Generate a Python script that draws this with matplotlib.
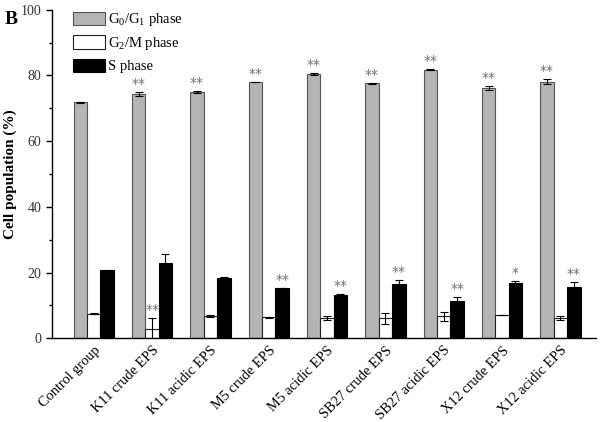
import matplotlib
matplotlib.use("Agg")
import matplotlib.pyplot as plt
import numpy as np

categories = ["Control group", "K11 crude EPS", "K11 acidic EPS", "M5 crude EPS",
              "M5 acidic EPS", "SB27 crude EPS", "SB27 acidic EPS", "X12 crude EPS",
              "X12 acidic EPS"]
g0g1 = [71.8, 74.4, 75.0, 78.0, 80.5, 77.6, 81.8, 76.1, 78.1]
g0g1_err = [0.1, 0.6, 0.4, 0.1, 0.4, 0.2, 0.2, 0.6, 0.8]
g2m = [7.5, 2.8, 6.8, 6.4, 6.3, 6.1, 6.7, 7.2, 6.2]
g2m_err = [0.2, 3.5, 0.3, 0.2, 0.6, 1.6, 1.4, 0.0, 0.5]
s_phase = [20.7, 22.8, 18.3, 15.2, 13.2, 16.4, 11.4, 16.9, 15.5]
s_err = [0.1, 3.0, 0.5, 0.1, 0.2, 1.4, 1.2, 0.4, 1.5]
g0g1_sig = ["", "**", "**", "**", "**", "**", "**", "**", "**"]
g2m_sig = ["", "**", "", "", "", "", "", "", ""]
s_sig = ["", "", "", "**", "**", "**", "**", "*", "**"]
legend_labels = [r"G$_0$/G$_1$ phase", r"G$_2$/M phase", "S phase"]

plt.rcParams["font.family"] = ["Liberation Serif", "DejaVu Serif"]
plt.rcParams["mathtext.fontset"] = "custom"
plt.rcParams["mathtext.rm"] = "Liberation Serif"
plt.rcParams["mathtext.it"] = "Liberation Serif:italic"

fig = plt.figure(figsize=(6.02, 4.22), dpi=100)
ax = fig.add_axes([0.0864, 0.1983, 0.9036, 0.7785])

x = np.arange(len(categories))
w = 0.23
series = [(g0g1, g0g1_err, g0g1_sig, "#b4b4b4", "#555555", -w),
          (g2m, g2m_err, g2m_sig, "white", "#222222", 0.0),
          (s_phase, s_err, s_sig, "black", "black", w)]
handles = []
for vals, errs, sigs, fc, ec, off in series:
    b = ax.bar(x + off, vals, width=w, color=fc, edgecolor=ec, linewidth=0.8,
               yerr=errs, error_kw=dict(ecolor="black", elinewidth=0.8, capsize=3, capthick=0.8),
               zorder=2)
    handles.append(b)
    for xi, v, e, s in zip(x, vals, errs, sigs):
        if s:
            ax.text(xi + off, v + e + 0.3, s, ha="center", va="bottom",
                    fontsize=10, color="#707070", family="DejaVu Sans")

ax.set_xlim(-0.715, 8.61)
ax.set_ylim(0, 100)
ax.set_yticks([0, 20, 40, 60, 80, 100])
ax.set_yticks(np.arange(10, 100, 20), minor=True)
ax.tick_params(axis="y", which="major", direction="out", length=4, width=1, labelsize=10,
               labelcolor="#333333")
ax.tick_params(axis="y", which="minor", direction="out", length=2.5, width=1)
ax.set_xticks(x)
ax.set_xticklabels(categories, rotation=45, ha="right", rotation_mode="anchor", fontsize=10.4)
ax.tick_params(axis="x", length=0, pad=4)
for sp in ["top", "right"]:
    ax.spines[sp].set_visible(False)
for sp in ["left", "bottom"]:
    ax.spines[sp].set_linewidth(1.0)
ax.set_ylabel("Cell population (%)", fontsize=11, fontweight="bold", labelpad=3)

leg = ax.legend(handles, legend_labels, loc="upper left", bbox_to_anchor=(0.015, 1.035),
                frameon=False, fontsize=10.5, handlelength=2.2, handleheight=1.0,
                handletextpad=0.2, labelspacing=0.45)

fig.text(0.008, 0.975, "B", fontsize=14, fontweight="bold", va="top", ha="left")

fig.savefig("out.png", dpi=100)
